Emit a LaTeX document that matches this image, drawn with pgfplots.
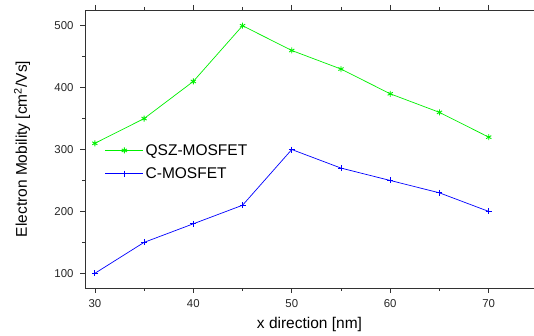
\documentclass[border=0pt]{standalone}
\usepackage{fontspec}
\setmainfont{Liberation Sans}
\usepackage{pgfplots}
\pgfplotsset{compat=1.18}
\definecolor{qgreen}{RGB}{0,240,0}
\definecolor{cblue}{RGB}{0,0,255}
\definecolor{axgray}{RGB}{50,50,50}
\begin{document}
\begin{tikzpicture}[x=1pt,y=1pt]
\path[use as bounding box] (-85,-48) rectangle (449,278+10);
\begin{axis}[
  at={(0,0)}, anchor=south west,
  scale only axis, width=449pt, height=278pt,
  xmin=29, xmax=74.6, ymin=76.3, ymax=525.4,
  axis x line*=box, axis y line*=left,
  axis line style={axgray, line width=0.8pt},
  xtick={30,40,50,60,70}, minor x tick num=1,
  ytick={100,200,300,400,500}, minor y tick num=1,
  tick align=outside,
  major tick length=5pt, minor tick length=3pt,
  tick style={axgray, line width=0.6pt},
  /pgf/number format/assume math mode=true,
  ticklabel style={font=\fontsize{11.4}{13}\selectfont, text=black!85},
  yticklabel style={xshift=-3pt},
  xticklabel style={yshift=-3pt},
  xlabel={x direction [nm]},
  ylabel={Electron Mobility [cm$^{\mathrm{2}}$/Vs]},
  label style={font=\fontsize{15.5}{18}\selectfont},
  xlabel style={at={(axis description cs:0.5,-0.133)}, anchor=center},
  ylabel style={at={(axis description cs:-0.14,0.5)}, anchor=center},
  legend style={at={(axis description cs:0.044,0.525)}, anchor=north west, draw=none, fill=none,
    font=\fontsize{15.5}{18}\selectfont, row sep=7pt, inner sep=0pt},
  legend cell align=left,
  legend image code/.code={\draw[mark repeat=2, mark phase=2, #1] plot coordinates {(0pt,0pt) (19pt,0pt) (38pt,0pt)};},
]
\addplot[color=qgreen, line width=0.7pt, mark=asterisk, mark size=3pt, mark options={line width=0.9pt}] coordinates {
(30,310) (35,350) (40,410) (45,500) (50,460) (55,430) (60,390) (65,360) (70,320)};
\addlegendentry{QSZ-MOSFET}
\addplot[color=cblue, line width=0.7pt, mark=+, mark size=3pt, mark options={line width=0.8pt}] coordinates {
(30,100) (35,150) (40,180) (45,210) (50,300) (55,270) (60,250) (65,230) (70,200)};
\addlegendentry{C-MOSFET}
\end{axis}
\end{tikzpicture}
\end{document}
